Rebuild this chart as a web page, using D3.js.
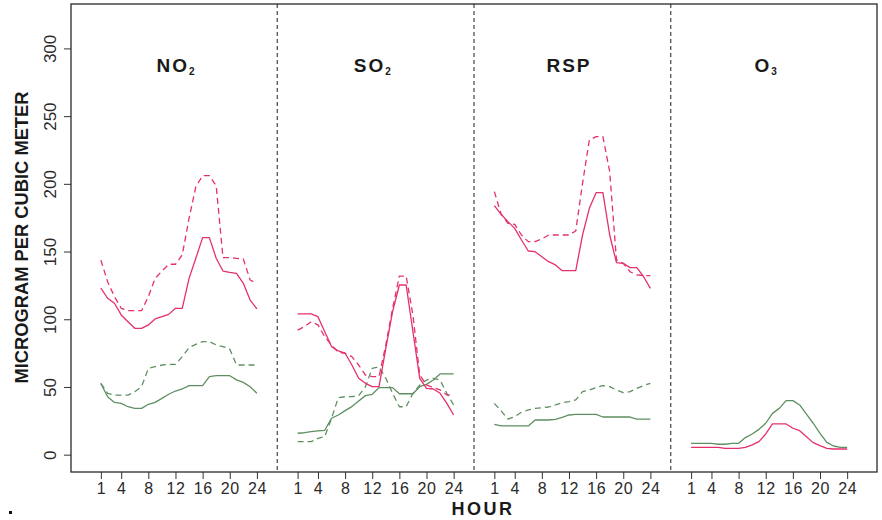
<!DOCTYPE html>
<html>
<head>
<meta charset="utf-8">
<script src="https://cdn.jsdelivr.net/npm/d3@7"></script>
<style>
  body { margin: 0; background: #fff; }
  svg { display: block; font-family: "Liberation Sans", Arial, sans-serif; }
</style>
</head>
<body>
<svg id="chart" width="882" height="520"></svg>
<script>
// hours of the day, shown once per panel
var hours = [1,2,3,4,5,6,7,8,9,10,11,12,13,14,15,16,17,18,19,20,21,22,23,24];
var hourTicks = [1, 4, 8, 12, 16, 20, 24];
var yTicks = [0, 50, 100, 150, 200, 250, 300];

var panelNames = ["NO", "SO", "RSP", "O"];
var panelSubs  = ["2", "2", "", "3"];

// NO2
var no2RedSolid   = [123,115.5,111.8,103.2,98.2,93.3,93.3,95.8,100.2,101.9,103.6,108.1,108.1,130.2,145,160.3,160.3,145,135.6,134.6,133.9,126.5,114.2,107.6];
var no2RedDash    = [143.7,127.7,116.7,108.1,106.3,106.3,106.3,116.7,130.2,135.6,140.6,140.6,147.5,174.5,197.9,206,206,198.6,145.5,145.5,145,144.5,129,126.5];
var no2GreenSolid = [52.6,42.8,38.6,37.9,35.4,34.2,34.2,37.2,38.6,41.6,44.6,47,48.5,51,51,51,57.6,58.3,58.3,58.3,55.2,53.4,50.2,45.3];
var no2GreenDash  = [52.6,45.3,44,44,44,46.5,50.2,63.7,65,66.2,66.7,66.7,72.4,79,81.5,83.5,83.5,81,79.8,78,66.2,66.2,66.2,66.2];

// SO2
var so2RedSolid   = [103.9,103.9,103.9,101.9,90.8,79.8,76.6,74.9,66.2,56.4,52.7,50.2,50.2,78.5,105.6,125.3,125.3,90.8,56.4,49,48.5,45.3,37.9,29.3];
var so2RedDash    = [92,94.5,98.2,95.8,87.1,81,75.6,74.9,72.4,66.2,58.8,57.6,57.6,81,108,131.9,131.9,103,58.8,51.5,49.5,47.8,44.1,44.1];
var so2GreenSolid = [15.8,16.2,17,17.5,18,26.9,29.3,32.5,35.5,39.6,43.6,44.6,49.5,49.5,49.5,45,45,45,50.2,51.9,55.1,59.6,59.6,59.6];
var so2GreenDash  = [9.6,9.6,9.6,12.1,13.3,26.8,42.1,42.8,42.8,43.6,50.2,63.8,65,56.4,45.3,35.4,35.4,45.3,51.4,55.1,56.4,55.1,45.3,36.7];

// RSP
var rspRedSolid   = [183.9,177.5,172.1,167.1,158.5,150.4,149.9,146.2,142.5,140.1,135.9,135.9,135.9,162.2,181.9,193.5,193.5,162.2,141.8,141.3,138.1,138.1,131.4,122.8];
var rspRedDash    = [194.2,177.5,170.8,170.1,162.2,157.3,157.3,159.3,162.2,162.2,162.2,162.2,165.2,200.4,232.4,234.8,234.8,209,143.8,141.3,135.1,132.7,132.2,132.2];
var rspGreenSolid = [22.4,21.2,21.2,21.2,21.2,21.2,25.6,25.6,25.6,26.1,27.6,29.3,29.8,29.8,29.8,29.8,27.8,27.8,27.8,27.8,27.8,26.3,26.3,26.3];
var rspGreenDash  = [37.9,32.3,26.3,28.1,31.3,33,34.2,34.7,35.2,36.7,38.4,39.1,40.4,46.5,47.7,49.5,51,50.2,47.7,45.8,46.5,49,51,52.7];

// O3
var o3RedSolid    = [5.4,5.4,5.4,5.4,5.4,4.7,4.7,4.7,5.4,7.2,9.6,15.3,22.7,22.7,22.7,19.5,17.7,13.3,8.9,6.7,4.7,4.2,4.2,4.2];
var o3GreenSolid  = [8.4,8.4,8.4,8.4,7.7,7.7,8.4,8.4,12.6,15.3,18.7,23.2,30.5,34.2,39.9,39.9,36.7,30,23.2,15.8,9.1,6.4,5.4,5.4];

var red = "#e5306b", green = "#5f8f60";

var panels = [
  [[no2GreenDash, green, true], [no2GreenSolid, green, false], [no2RedDash, red, true], [no2RedSolid, red, false]],
  [[so2GreenDash, green, true], [so2GreenSolid, green, false], [so2RedDash, red, true], [so2RedSolid, red, false]],
  [[rspGreenDash, green, true], [rspGreenSolid, green, false], [rspRedDash, red, true], [rspRedSolid, red, false]],
  [[o3GreenSolid, green, false], [o3RedSolid, red, false]]
];

var panelWidth = 29;   // hours 1..24 plus gap, per panel on a shared x axis

var svg = d3.select("#chart");

var x = d3.scaleLinear().domain([-3.4, 115.4]).range([71, 877]);
var y = d3.scaleLinear().domain([-12.8, 332.8]).range([472, 4]);

var line = d3.line()
    .x(function(d) { return x(d[0]); })
    .y(function(d) { return y(d[1]); });

// x axis: ticks for every panel
var xTickVals = [];
panels.forEach(function(p, i) {
  hourTicks.forEach(function(h) { xTickVals.push(i * panelWidth + h); });
});

var xAxis = svg.append("g")
    .attr("transform", "translate(0,472)")
    .call(d3.axisBottom(x)
      .tickValues(xTickVals)
      .tickFormat(function(d) { return String(d - Math.floor((d - 1) / panelWidth) * panelWidth); })
      .tickSize(7)
      .tickPadding(4));
xAxis.select(".domain").remove();
xAxis.selectAll("line").attr("stroke", "#333").attr("stroke-width", 1);
xAxis.selectAll("text")
    .attr("font-size", 16)
    .attr("font-family", "Liberation Sans, Arial, sans-serif")
    .attr("fill", "#2a2a2a")
    .attr("letter-spacing", 0.5);

// y axis
var yAxis = svg.append("g")
    .attr("transform", "translate(71,0)")
    .call(d3.axisLeft(y).tickValues(yTicks).tickSize(7).tickFormat(d3.format("d")));
yAxis.select(".domain").remove();
yAxis.selectAll("line").attr("stroke", "#333").attr("stroke-width", 1);
yAxis.selectAll("text")
    .attr("x", null).attr("dy", null)
    .attr("text-anchor", "middle")
    .attr("transform", "translate(-15,0) rotate(-90)")
    .attr("font-size", 17)
    .attr("font-family", "Liberation Sans, Arial, sans-serif")
    .attr("fill", "#2a2a2a");

// panel separators
[27, 56, 85].forEach(function(s) {
  svg.append("line")
    .attr("x1", x(s)).attr("x2", x(s))
    .attr("y1", 4).attr("y2", 472)
    .attr("stroke", "#444")
    .attr("stroke-width", 1.2)
    .attr("stroke-dasharray", "4,3");
});

// lines
panels.forEach(function(p, i) {
  p.forEach(function(s) {
    var pts = hours.map(function(h, j) { return [i * panelWidth + h, s[0][j]]; });
    svg.append("path")
      .datum(pts)
      .attr("d", line)
      .attr("fill", "none")
      .attr("stroke", s[1])
      .attr("stroke-width", 1.3)
      .attr("stroke-linejoin", "round")
      .attr("stroke-dasharray", s[2] ? "6,4" : null);
  });
});

// titles
panelNames.forEach(function(name, i) {
  var t = svg.append("text")
    .attr("x", x(i * panelWidth + 12))
    .attr("y", 72)
    .attr("text-anchor", "middle")
    .attr("font-size", 19)
    .attr("font-weight", "bold")
    .attr("letter-spacing", 2)
    .attr("fill", "#1a1a1a")
    .text(name);
  if (panelSubs[i]) {
    t.append("tspan")
      .attr("font-size", 10)
      .attr("dy", 3)
      .attr("letter-spacing", 0)
      .text(panelSubs[i]);
  }
});

// frame
svg.append("rect")
  .attr("x", 71).attr("y", 4)
  .attr("width", 806).attr("height", 468)
  .attr("fill", "none")
  .attr("stroke", "#2a2a2a")
  .attr("stroke-width", 1.3);

// axis titles
svg.append("text")
  .attr("transform", "translate(28,237.5) rotate(-90)")
  .attr("text-anchor", "middle")
  .attr("font-size", 19)
  .attr("font-weight", "bold")
  .attr("textLength", 292)
  .attr("lengthAdjust", "spacingAndGlyphs")
  .attr("fill", "#1a1a1a")
  .text("MICROGRAM PER CUBIC METER");

svg.append("text")
  .attr("x", 483)
  .attr("y", 515)
  .attr("text-anchor", "middle")
  .attr("font-size", 18)
  .attr("font-weight", "bold")
  .attr("letter-spacing", 2.5)
  .attr("fill", "#1a1a1a")
  .text("HOUR");

// small stray mark in the lower left corner
svg.append("rect")
  .attr("x", 9).attr("y", 511)
  .attr("width", 3).attr("height", 3)
  .attr("fill", "#111");
</script>
</body>
</html>
